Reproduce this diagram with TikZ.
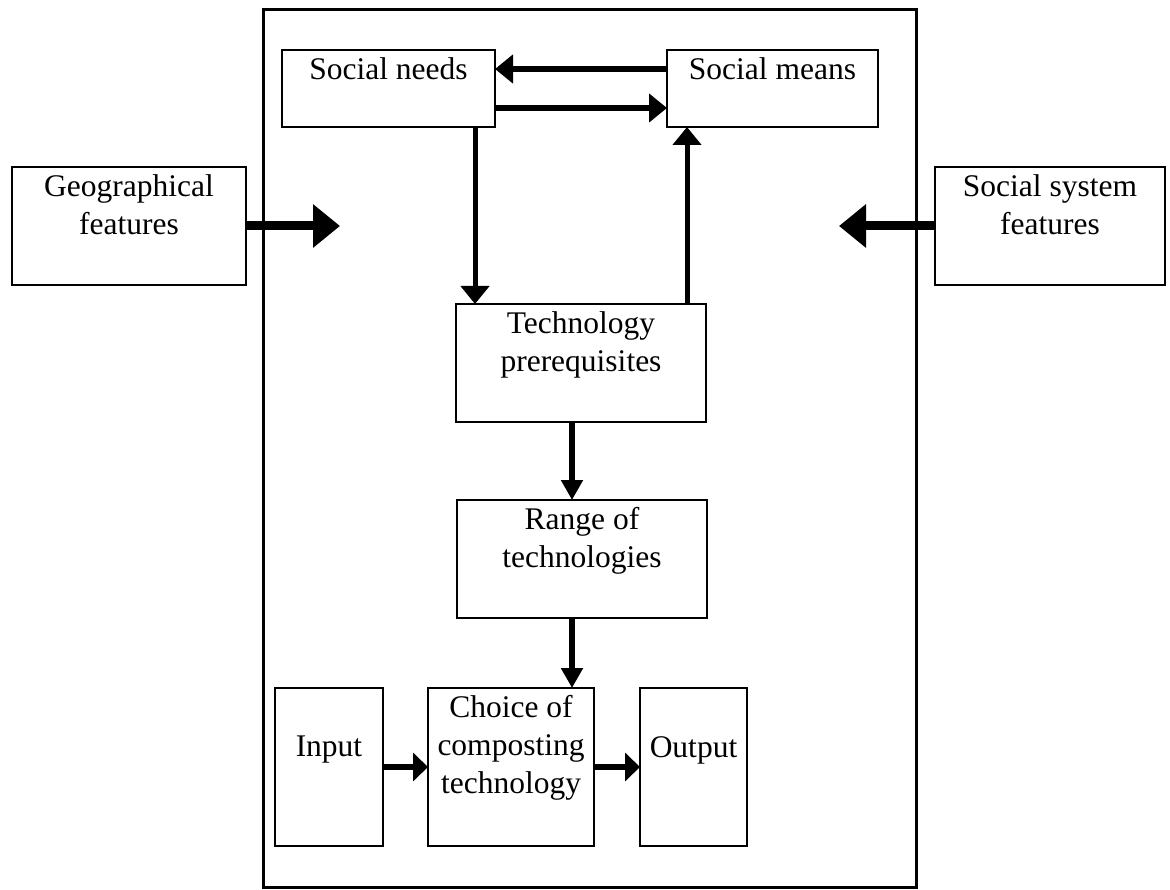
\documentclass[tikz,border=0pt]{standalone}
\usepackage{fontspec}
\setmainfont{Liberation Serif}
\usetikzlibrary{arrows.meta}
\begin{document}
\begin{tikzpicture}[x=1pt,y=-1pt,
 box/.style={draw, line width=1.6pt, inner sep=0pt, outer sep=0pt},
 lbl/.style={anchor=north, inner sep=0pt, align=center, font=\fontsize{31.5}{38}\selectfont},
 arr/.style={line width=6pt, -{Triangle[length=18pt,width=28pt]}},
 varr/.style={line width=6pt, -{Triangle[length=20pt,width=21pt]}},
 harr/.style={line width=6pt, -{Triangle[length=15pt,width=28pt]}},
 bigarr/.style={line width=9pt, -{Triangle[length=27pt,width=42pt]}}]
\useasboundingbox (0,0) rectangle (1170,890);
% outer frame
\node[draw, line width=3pt, inner sep=0pt, outer sep=0pt, minimum width=653pt, minimum height=877pt] (frame) at (589.5,448.5) {};
% boxes
\node[box, minimum width=213pt, minimum height=77pt] (sn) at (388.5,88.5) {};
\node[box, minimum width=211pt, minimum height=77pt] (sm) at (772.5,88.5) {};
\node[box, minimum width=234pt, minimum height=118pt] (geo) at (129,226) {};
\node[box, minimum width=230pt, minimum height=118pt] (ssf) at (1050,226) {};
\node[box, minimum width=250pt, minimum height=118pt] (tp) at (581,363) {};
\node[box, minimum width=250pt, minimum height=118pt] (rt) at (582,559) {};
\node[box, minimum width=108pt, minimum height=158pt] (in) at (329,767) {};
\node[box, minimum width=166pt, minimum height=158pt] (ch) at (511,767) {};
\node[box, minimum width=107pt, minimum height=158pt] (out) at (693.5,767) {};
% labels
\node[lbl] (snt) at ([yshift=-7.5pt]sn.north) {Social needs};
\node[lbl] (smt) at ([yshift=-7.5pt]sm.north) {Social means};
\node[lbl] (geot) at ([yshift=-7.5pt]geo.north) {Geographical\\features};
\node[lbl] (ssft) at ([yshift=-7.5pt]ssf.north) {Social system\\features};
\node[lbl] (tpt) at ([yshift=-7.5pt]tp.north) {Technology\\prerequisites};
\node[lbl] (rtt) at ([yshift=-7.5pt]rt.north) {Range of\\technologies};
\node[lbl] (cht) at ([yshift=-7.5pt]ch.north) {Choice of\\composting\\technology};
\node[lbl] (int) at ([yshift=-48pt]in.north) {Input};
\node[lbl] (outt) at ([yshift=-48pt]out.north) {Output};
% column coordinates
\coordinate (c1) at (475,0);
\coordinate (c2) at (687,0);
\coordinate (c3) at (572,0);
\coordinate (g) at (340,226);
\coordinate (s) at (839,226);
% connectors
\draw[arr] ([yshift=19.5pt]sm.west) -- ([yshift=19.5pt]sn.east);
\draw[arr] ([yshift=-19.5pt]sn.east) -- ([yshift=-19.5pt]sm.west);
\draw[arr, line width=5pt] (sn.south -| c1) -- (tp.north -| c1);
\draw[arr, line width=5pt] (tp.north -| c2) -- (sm.south -| c2);
\draw[varr] (tp.south -| c3) -- (rt.north -| c3);
\draw[varr] (rt.south -| c3) -- (ch.north -| c3);
\draw[harr] (in.east) -- (ch.west);
\draw[harr] (ch.east) -- (out.west);
\draw[bigarr] (geo.east) -- (g);
\draw[bigarr] (ssf.west) -- (s);
\end{tikzpicture}
\end{document}
